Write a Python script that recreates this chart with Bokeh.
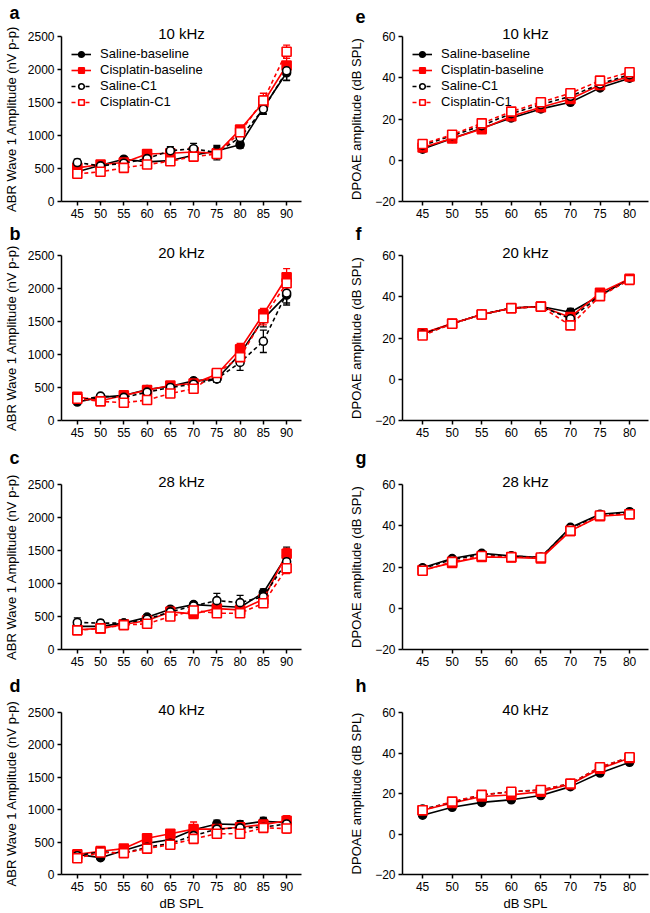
from bokeh.plotting import figure
from bokeh.models import (Range1d, Title, Legend, LegendItem, Whisker,
                          ColumnDataSource, TeeHead, FixedTicker)
from bokeh.layouts import column, row
from bokeh.embed import file_html
from bokeh.resources import INLINE

FONT = "Liberation Sans"
RED = "#FF0000"
BLACK = "#000000"

series_names = ["Saline-baseline", "Cisplatin-baseline", "Saline-C1", "Cisplatin-C1"]

abr_levels = [45, 50, 55, 60, 65, 70, 75, 80, 85, 90]
dpoae_levels = [45, 50, 55, 60, 65, 70, 75, 80]
abr_ticks = [0, 500, 1000, 1500, 2000, 2500]
dpoae_ticks = [-20, 0, 20, 40, 60]

# ---------------- ABR wave 1 amplitude (nV p-p) ----------------
# 10 kHz
abr10_saline_base = [450, 550, 640, 600, 620, 700, 770, 860, 1420, 1950]
abr10_cis_base    = [510, 560, 590, 720, 730, 750, 730, 1090, 1500, 2060]
abr10_saline_c1   = [590, 540, 580, 650, 770, 800, 740, 970, 1400, 1980]
abr10_cis_c1      = [420, 450, 510, 560, 610, 680, 720, 1050, 1530, 2270]
abr10_saline_base_err = [40, 40, 40, 50, 50, 60, 60, 50, 90, 120]
abr10_cis_base_err    = [40, 40, 40, 40, 50, 50, 50, 60, 100, 110]
abr10_saline_c1_err   = [50, 40, 40, 50, 60, 80, 110, 70, 80, 140]
abr10_cis_c1_err      = [40, 40, 40, 40, 40, 50, 60, 70, 110, 100]
# 20 kHz
abr20_saline_base = [280, 350, 380, 470, 520, 600, 630, 1010, 1540, 1900]
abr20_cis_base    = [360, 300, 380, 460, 530, 560, 700, 1080, 1610, 2170]
abr20_saline_c1   = [300, 370, 350, 430, 500, 550, 630, 880, 1200, 1930]
abr20_cis_c1      = [330, 290, 270, 310, 410, 480, 720, 960, 1550, 2080]
abr20_saline_base_err = [30, 30, 30, 40, 40, 40, 50, 80, 120, 150]
abr20_cis_base_err    = [30, 30, 30, 40, 40, 40, 50, 90, 90, 130]
abr20_saline_c1_err   = [30, 30, 30, 40, 40, 40, 50, 120, 170, 150]
abr20_cis_c1_err      = [30, 30, 30, 30, 40, 40, 50, 80, 100, 120]
# 28 kHz
abr28_saline_base = [350, 350, 400, 490, 610, 680, 660, 640, 860, 1420]
abr28_cis_base    = [300, 320, 380, 440, 570, 540, 620, 600, 760, 1450]
abr28_saline_c1   = [410, 400, 400, 460, 570, 660, 740, 710, 800, 1330]
abr28_cis_c1      = [290, 320, 370, 390, 500, 590, 550, 550, 700, 1230]
abr28_saline_base_err = [40, 40, 30, 30, 40, 40, 50, 50, 60, 130]
abr28_cis_base_err    = [30, 30, 30, 30, 40, 40, 50, 50, 50, 80]
abr28_saline_c1_err   = [70, 50, 40, 40, 40, 40, 110, 110, 70, 130]
abr28_cis_c1_err      = [30, 30, 30, 30, 40, 40, 50, 50, 50, 80]
# 40 kHz
abr40_saline_base = [310, 260, 370, 480, 540, 690, 780, 770, 820, 800]
abr40_cis_base    = [310, 360, 400, 560, 630, 700, 700, 730, 770, 830]
abr40_saline_c1   = [290, 350, 330, 420, 480, 600, 700, 720, 730, 780]
abr40_cis_c1      = [250, 340, 330, 400, 460, 550, 630, 630, 720, 710]
abr40_saline_base_err = [30, 30, 30, 40, 40, 50, 60, 60, 60, 80]
abr40_cis_base_err    = [30, 30, 30, 40, 40, 110, 50, 50, 50, 80]
abr40_saline_c1_err   = [30, 30, 30, 40, 40, 50, 60, 60, 60, 80]
abr40_cis_c1_err      = [30, 30, 30, 40, 40, 50, 50, 60, 60, 70]

# ---------------- DPOAE amplitude (dB SPL) ----------------
# 10 kHz
dp10_saline_base = [5.4, 10.6, 15.5, 20.5, 24.9, 28.1, 35.1, 39.8]
dp10_cis_base    = [6.2, 10.6, 15.1, 21.3, 25.7, 29.7, 36.5, 40.6]
dp10_saline_c1   = [7.2, 11.9, 16.8, 22.6, 27.0, 31.0, 37.0, 41.5]
dp10_cis_c1      = [7.9, 12.4, 17.9, 23.6, 28.1, 32.5, 38.6, 42.7]
# 20 kHz
dp20_saline_base = [22.0, 27.0, 31.4, 34.5, 35.3, 32.5, 40.6, 48.7]
dp20_cis_base    = [22.3, 27.0, 31.4, 34.5, 35.3, 30.1, 41.9, 48.7]
dp20_saline_c1   = [21.8, 26.9, 31.4, 34.5, 35.3, 29.3, 40.6, 48.4]
dp20_cis_c1      = [21.2, 26.9, 31.4, 34.4, 35.2, 26.1, 40.3, 48.2]
# 28 kHz
dp28_saline_base = [19.6, 24.1, 26.6, 25.4, 24.6, 39.2, 45.6, 46.8]
dp28_cis_base    = [18.5, 22.0, 24.9, 24.6, 24.1, 37.5, 44.6, 45.6]
dp28_saline_c1   = [19.3, 23.6, 26.1, 25.2, 24.8, 38.8, 45.3, 46.4]
dp28_cis_c1      = [18.2, 22.5, 25.3, 24.8, 24.6, 37.5, 45.0, 45.6]
# 40 kHz
dp40_saline_base = [9.3, 13.2, 15.6, 16.9, 19.0, 23.4, 30.1, 35.4]
dp40_cis_base    = [11.7, 15.3, 18.5, 19.3, 20.9, 24.6, 32.2, 37.5]
dp40_saline_c1   = [12.3, 15.6, 19.3, 20.9, 21.7, 24.9, 33.0, 37.9]
dp40_cis_c1      = [11.7, 16.0, 19.3, 20.9, 21.7, 24.9, 33.0, 37.9]
dp_err_small = [0.8, 0.8, 0.8, 0.8, 0.8, 1.0, 1.0, 0.8]
dp20_err = [0.8, 0.8, 0.8, 0.8, 0.8, 1.8, 1.0, 0.8]

# ---------------- layout constants ----------------
ROW_TOP = [36, 33, 43, 42]
ROW_FRAME = [165, 165, 165, 163]
ROW_BOTTOM = [21, 21, 21, 38]
LETTER_STANDOFF = [5, 2, 12, 11]
COL_W = [330, 320]
COL_BL = [55, 72]
COL_BR = [29, 2]
COL_LABEL_STANDOFF = [6, 8]
COL_LETTER_OFFSET = [-52, -47]

STYLES = {
    "Saline-baseline":    dict(color=BLACK, marker="circle", fill=BLACK, dash="solid", size=8),
    "Cisplatin-baseline": dict(color=RED, marker="square", fill=RED, dash="solid", size=9),
    "Saline-C1":          dict(color=BLACK, marker="circle", fill="white", dash="4 3", size=8),
    "Cisplatin-C1":       dict(color=RED, marker="square", fill="white", dash="4 3", size=9),
}


def make_panel(levels, values, errors, yrange, yticks, ylabel, title, letter,
               col, rowi, show_legend):
    h = ROW_TOP[rowi] + ROW_FRAME[rowi] + ROW_BOTTOM[rowi]
    x0 = levels[0] - 3.4
    x1 = levels[-1] + 3.2
    p = figure(width=COL_W[col], height=h, output_backend="svg", toolbar_location=None,
               x_range=Range1d(x0, x1), y_range=Range1d(*yrange),
               min_border_left=COL_BL[col], min_border_right=COL_BR[col],
               min_border_top=ROW_TOP[rowi], min_border_bottom=ROW_BOTTOM[rowi])
    p.outline_line_color = None
    p.grid.visible = False
    p.background_fill_color = "white"
    p.border_fill_color = "white"

    items = []
    for name in series_names:
        st = STYLES[name]
        ys = values[name]
        es = errors[name]
        src = ColumnDataSource(dict(x=levels, y=ys,
                                    lo=[v - e for v, e in zip(ys, es)],
                                    hi=[v + e for v, e in zip(ys, es)]))
        wh = Whisker(base="x", upper="hi", lower="lo", source=src,
                     line_color=st["color"], line_width=1.3,
                     upper_head=TeeHead(size=7, line_color=st["color"], line_width=1.3),
                     lower_head=TeeHead(size=7, line_color=st["color"], line_width=1.3))
        p.add_layout(wh)
        lr = p.line("x", "y", source=src, line_color=st["color"], line_width=1.6,
                    line_dash=st["dash"])
        sr = p.scatter("x", "y", source=src, marker=st["marker"], size=st["size"],
                       fill_color=st["fill"], line_color=st["color"], line_width=1.6)
        items.append(LegendItem(label=name, renderers=[lr, sr]))

    for ax in (p.xaxis[0], p.yaxis[0]):
        ax.axis_line_width = 1.5
        ax.axis_line_color = BLACK
        ax.major_tick_line_width = 1.5
        ax.major_tick_line_color = BLACK
        ax.major_tick_out = 4
        ax.major_tick_in = 0
        ax.minor_tick_line_color = None
        ax.major_label_text_font = FONT
        ax.major_label_text_font_size = "12px"
        ax.major_label_text_color = BLACK
        ax.major_label_standoff = 3
        ax.axis_label_text_font = FONT
        ax.axis_label_text_font_size = "13px"
        ax.axis_label_text_font_style = "normal"
        ax.axis_label_text_color = BLACK
    p.xaxis.ticker = FixedTicker(ticks=levels)
    p.yaxis.ticker = FixedTicker(ticks=yticks)
    p.yaxis.axis_label = ylabel
    p.yaxis.axis_label_standoff = COL_LABEL_STANDOFF[col]
    if rowi == 3:
        p.xaxis.axis_label = "dB SPL"
        p.xaxis.axis_label_standoff = 2

    # panel title (e.g. "10 kHz"), sitting on the top of the y axis
    p.add_layout(Title(text=title, align="center", vertical_align="bottom", standoff=-10,
                       text_font=FONT, text_font_size="15px",
                       text_font_style="normal", text_color=BLACK), "above")
    # panel letter, above and to the left
    p.add_layout(Title(text=letter, align="left", vertical_align="top",
                       standoff=LETTER_STANDOFF[rowi], offset=COL_LETTER_OFFSET[col],
                       text_font=FONT, text_font_size="18px",
                       text_font_style="bold", text_color=BLACK), "above")

    if show_legend:
        lg = Legend(items=items, location="top_left")
        lg.background_fill_alpha = 0
        lg.border_line_color = None
        lg.label_text_font = FONT
        lg.label_text_font_size = "13px"
        lg.label_text_color = BLACK
        lg.glyph_width = 20
        lg.glyph_height = 14
        lg.label_height = 14
        lg.spacing = 1
        lg.padding = 8
        lg.margin = 10
        lg.label_standoff = 9
        p.add_layout(lg)
    return p


abr_sets = [
    ("10 kHz", "a", [abr10_saline_base, abr10_cis_base, abr10_saline_c1, abr10_cis_c1],
     [abr10_saline_base_err, abr10_cis_base_err, abr10_saline_c1_err, abr10_cis_c1_err]),
    ("20 kHz", "b", [abr20_saline_base, abr20_cis_base, abr20_saline_c1, abr20_cis_c1],
     [abr20_saline_base_err, abr20_cis_base_err, abr20_saline_c1_err, abr20_cis_c1_err]),
    ("28 kHz", "c", [abr28_saline_base, abr28_cis_base, abr28_saline_c1, abr28_cis_c1],
     [abr28_saline_base_err, abr28_cis_base_err, abr28_saline_c1_err, abr28_cis_c1_err]),
    ("40 kHz", "d", [abr40_saline_base, abr40_cis_base, abr40_saline_c1, abr40_cis_c1],
     [abr40_saline_base_err, abr40_cis_base_err, abr40_saline_c1_err, abr40_cis_c1_err]),
]
dp_sets = [
    ("10 kHz", "e", [dp10_saline_base, dp10_cis_base, dp10_saline_c1, dp10_cis_c1], [dp_err_small] * 4),
    ("20 kHz", "f", [dp20_saline_base, dp20_cis_base, dp20_saline_c1, dp20_cis_c1], [dp20_err] * 4),
    ("28 kHz", "g", [dp28_saline_base, dp28_cis_base, dp28_saline_c1, dp28_cis_c1], [dp_err_small] * 4),
    ("40 kHz", "h", [dp40_saline_base, dp40_cis_base, dp40_saline_c1, dp40_cis_c1], [dp_err_small] * 4),
]

rows = []
for i in range(4):
    t, l, vals, errs = abr_sets[i]
    left = make_panel(abr_levels, dict(zip(series_names, vals)), dict(zip(series_names, errs)),
                      (0, 2500), abr_ticks, "ABR Wave 1 Amplitude (nV p-p)", t, l, 0, i, i == 0)
    t, l, vals, errs = dp_sets[i]
    right = make_panel(dpoae_levels, dict(zip(series_names, vals)), dict(zip(series_names, errs)),
                       (-20, 60), dpoae_ticks, "DPOAE amplitude (dB SPL)", t, l, 1, i, i == 0)
    rows.append(row(left, right))

layout = column(*rows)
open("out.html", "w").write(file_html(layout, INLINE))
